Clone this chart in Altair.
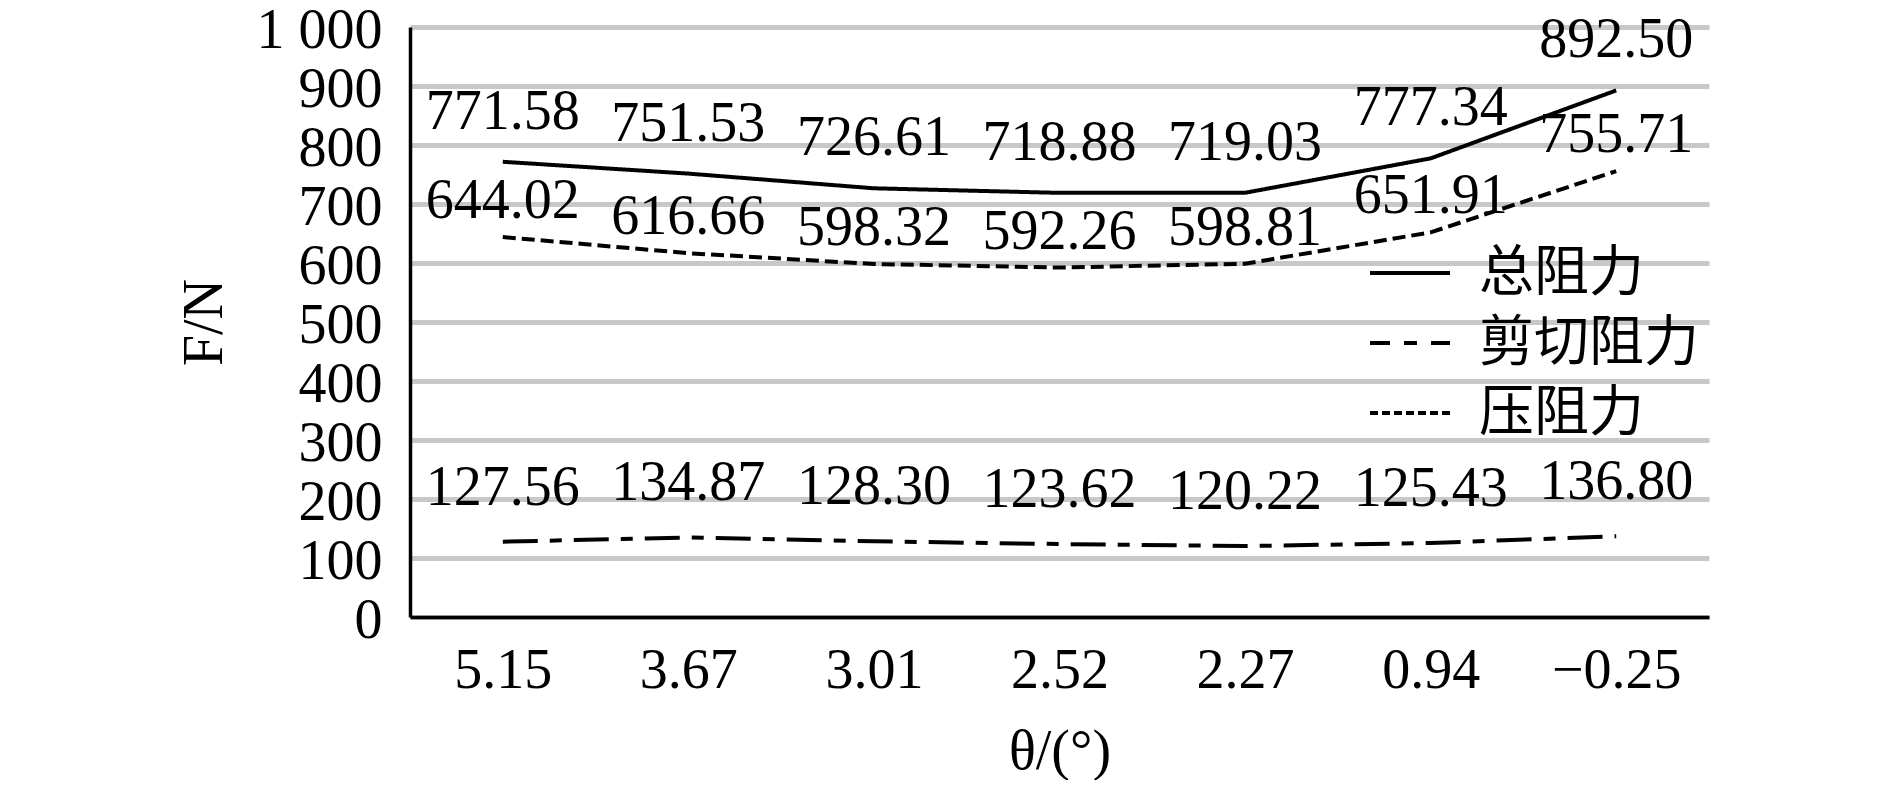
import altair as alt
import pandas as pd

# ---- data ----
theta_labels = ["5.15", "3.67", "3.01", "2.52", "2.27", "0.94", "\u22120.25"]
series_names = ["总阻力", "剪切阻力", "压阻力"]
total = [771.58, 751.53, 726.61, 718.88, 719.03, 777.34, 892.50]
shear = [127.56, 134.87, 128.30, 123.62, 120.22, 125.43, 136.80]
pressure = [644.02, 616.66, 598.32, 592.26, 598.81, 651.91, 755.71]

rows = []
for name, vals in zip(series_names, [total, shear, pressure]):
    for t, v in zip(theta_labels, vals):
        rows.append({"theta": t, "series": name, "value": v})
df = pd.DataFrame(rows)

FONT = "Liberation Serif, Noto Sans CJK SC"
FS = 56

x_enc = alt.X(
    "theta:N",
    sort=theta_labels,
    scale=alt.Scale(type="point", padding=0.5),
    axis=alt.Axis(
        title="θ/(°)",
        labelAngle=0,
        ticks=False,
        tickSize=0,
        grid=False,
        domainColor="black",
        domainWidth=3.5,
        labelPadding=26,
        titlePadding=26,
    ),
)
y_enc = alt.Y(
    "value:Q",
    scale=alt.Scale(domain=[0, 1000], nice=False, zero=True),
    axis=alt.Axis(
        title="F/N",
        values=list(range(0, 1001, 100)),
        labelExpr="replace(format(datum.value, ','), ',', ' ')",
        ticks=False,
        tickSize=0,
        grid=True,
        gridColor="#c8c8c8",
        gridWidth=5,
        domainColor="black",
        domainWidth=3.5,
        labelPadding=28,
        labelOffset=3,
        titlePadding=23,
    ),
)

# drawn lines (actual dash styles, no legend)
lines = alt.Chart(df).mark_line(color="black", strokeWidth=4, strokeCap="butt").encode(
    x=x_enc,
    y=y_enc,
    detail="series:N",
    strokeDash=alt.StrokeDash(
        "series:N",
        scale=alt.Scale(domain=series_names, range=[[1, 0], [35, 12, 12, 12], [13, 6]]),
        legend=None,
    ),
)

# legend-only layer (legend symbols as drawn in the reference)
legend_layer = (
    alt.Chart(df)
    .transform_filter("datum.value < 0")
    .transform_calculate(legend_series="datum.series")
    .mark_line(color="black", strokeWidth=4)
    .encode(
        x=x_enc,
        y=y_enc,
        strokeDash=alt.StrokeDash(
            "legend_series:N",
            scale=alt.Scale(domain=series_names, range=[[1, 0], [20, 14, 13, 14], [8, 4]]),
            legend=alt.Legend(
                title=None,
                orient="none",
                legendX=958,
                legendY=204,
                direction="vertical",
                symbolType="stroke",
                symbolSize=6400,
                symbolStrokeWidth=4,
                symbolStrokeColor="black",
                labelFont=FONT,
                labelFontSize=55,
                labelColor="black",
                labelOffset=27,
                labelLimit=0,
                rowPadding=-17,
                padding=0,
            ),
        ),
    )
)


def labels(name, dy):
    return (
        alt.Chart(df)
        .transform_filter(alt.datum.series == name)
        .mark_text(font=FONT, fontSize=FS, color="black", align="center", baseline="middle", dy=dy)
        .encode(x=x_enc, y=y_enc, text=alt.Text("value:Q", format=".2f"))
    )


chart = (
    alt.layer(lines, legend_layer, labels("总阻力", -50), labels("压阻力", -36), labels("剪切阻力", -54))
    .resolve_scale(strokeDash="independent")
    .properties(
        width=1299,
        height=590,
        autosize=alt.AutoSizeParams(type="none"),
        padding={"left": 402, "top": 19, "right": 160, "bottom": 163},
        background="white",
    )
    .configure_view(stroke=None)
    .configure_axis(
        labelFont=FONT,
        labelFontSize=FS,
        labelColor="black",
        titleFont=FONT,
        titleFontSize=FS,
        titleFontWeight="normal",
        titleColor="black",
    )
)

chart.save("out.html", embed_options={"renderer": "svg", "actions": False})
